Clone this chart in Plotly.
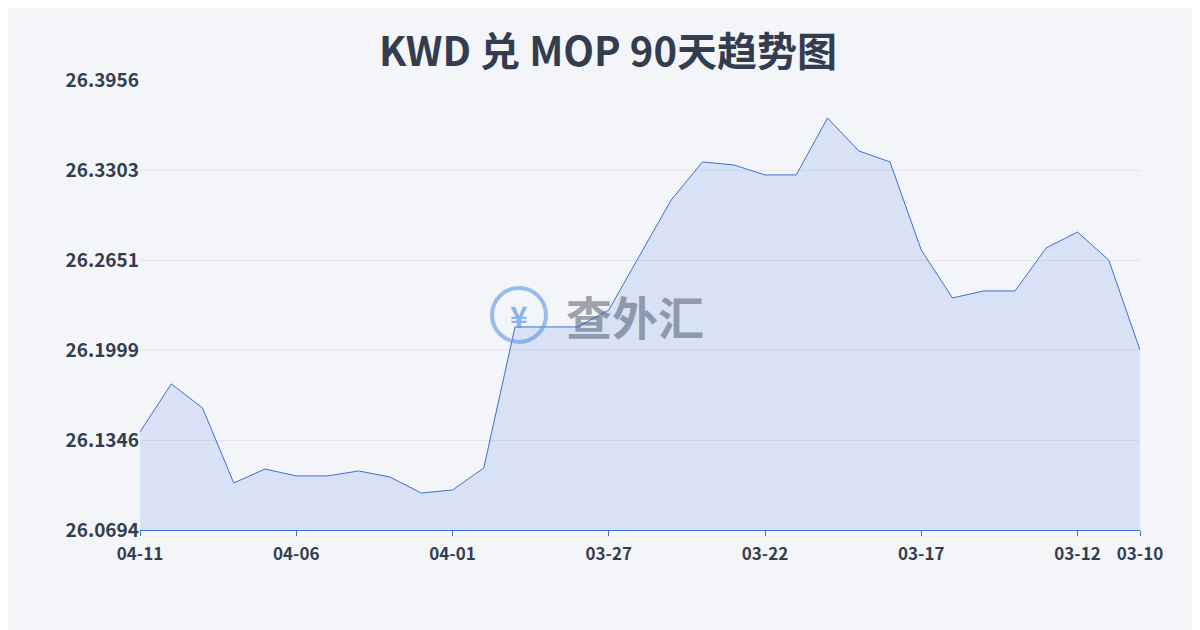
import pandas as pd
import plotly.graph_objects as go

# daily labels, newest first (as shown left to right)
dates = [d.strftime("%m-%d") for d in pd.date_range("2024-03-10", "2024-04-11")][::-1]
rates = [26.1405, 26.1753, 26.1579, 26.1035, 26.1136, 26.1086, 26.1086, 26.1122,
         26.1078, 26.0962, 26.0984, 26.1143, 26.2166, 26.2166, 26.2166, 26.2289,
         26.2688, 26.3087, 26.3362, 26.3340, 26.3268, 26.3268, 26.3681, 26.3442,
         26.3362, 26.2724, 26.2376, 26.2427, 26.2427, 26.2739, 26.2854, 26.2651,
         26.1999]
tick_labels = ["04-11", "04-06", "04-01", "03-27", "03-22", "03-17", "03-12", "03-10"]
y_ticks = [26.0694, 26.1346, 26.1999, 26.2651, 26.3303, 26.3956]

fig = go.Figure()
fig.add_trace(go.Scatter(
    x=dates, y=rates, mode="lines",
    line=dict(color="#3b6fd6", width=1),
    fill="tozeroy", fillcolor="rgba(120,160,230,0.22)",
    hoverinfo="x+y",
))

fig.update_layout(
    width=1200, height=630,
    margin=dict(l=132, r=68, t=72, b=108),
    paper_bgcolor="#f4f5f8", plot_bgcolor="#f4f5f8",
    showlegend=False,
    title=dict(text="<b>KWD 兑 MOP 90天趋势图</b>", x=0.5, y=0.93, xanchor="center",
               yanchor="middle",
               font=dict(size=40, color="#333d4f", family="Noto Sans CJK SC")),
    font=dict(family="Noto Sans CJK SC", color="#333d4f"),
)
fig.update_xaxes(
    type="category", tickmode="array", tickvals=tick_labels,
    ticktext=["<b>%s</b>" % t for t in tick_labels],
    showgrid=False, showline=True, linecolor="#3b6fd6", ticks="outside",
    tickcolor="#3b6fd6", ticklen=5, range=[0, len(dates) - 1], ticklabelstandoff=4,
    tickfont=dict(size=17, color="#333d4f", family="Noto Sans CJK SC"),
)
fig.update_yaxes(
    range=[26.0694, 26.3956], tickvals=y_ticks,
    ticktext=["<b>%.4f</b>" % v for v in y_ticks],
    showgrid=True, gridcolor="#e3e5ea", zeroline=False,
    tickfont=dict(size=19, color="#333d4f", family="Noto Sans CJK SC"),
)

# watermark
fig.add_shape(type="circle", xref="paper", yref="paper", x0=0.352, x1=0.406, y0=0.418, y1=0.538,
              line=dict(color="rgba(90,150,230,0.6)", width=4))
fig.add_annotation(x=0.379, y=0.478, xref="paper", yref="paper", text="<b>¥</b>", showarrow=False,
                   font=dict(size=30, color="rgba(90,150,230,0.7)"))
fig.add_annotation(x=0.495, y=0.478, xref="paper", yref="paper", text="<b>查外汇</b>",
                   showarrow=False, font=dict(size=46, color="rgba(80,90,110,0.55)",
                                              family="Noto Sans CJK SC"))

fig.write_html("out.html")
